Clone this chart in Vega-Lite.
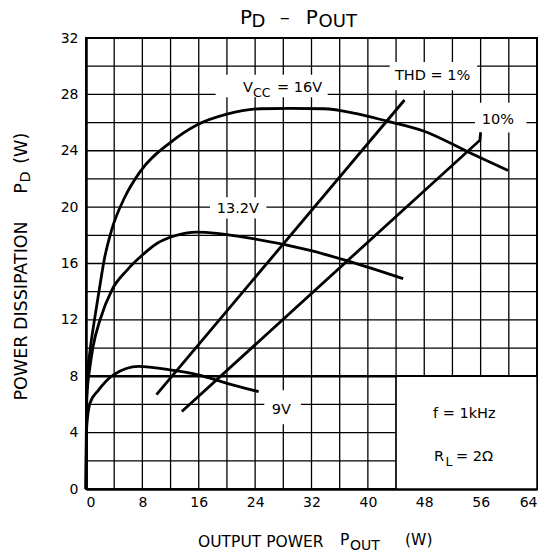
{
  "$schema": "https://vega.github.io/schema/vega-lite/v6.json",
  "width": 451,
  "height": 451,
  "autosize": {"type": "none"},
  "padding": {"left": 86, "top": 38, "right": 12, "bottom": 68},
  "background": "white",
  "config": {
    "font": "DejaVu Sans",
    "view": {"stroke": "black", "strokeWidth": 2},
    "axis": {
      "grid": false,
      "domainColor": "black", "domainWidth": 2.5,
      "ticks": false, "labelColor": "black", "labelFontSize": 14,
      "labelFont": "DejaVu Sans", "labelPadding": 6, "title": null
    }
  },
  "datasets": {
    "gridx": [{"x": 4}, {"x": 8}, {"x": 12}, {"x": 16}, {"x": 20}, {"x": 24}, {"x": 28}, {"x": 32}, {"x": 36}, {"x": 40}, {"x": 44}, {"x": 48}, {"x": 52}, {"x": 56}, {"x": 60}],
    "gridy": [{"y": 2}, {"y": 4}, {"y": 6}, {"y": 8}, {"y": 10}, {"y": 12}, {"y": 14}, {"y": 16}, {"y": 18}, {"y": 20}, {"y": 22}, {"y": 24}, {"y": 26}, {"y": 28}, {"y": 30}],
    "thick": [{"y": 8}],
    "curves": [
      {"s": "16V", "x": 0, "y": 0}, {"s": "16V", "x": 0.05, "y": 4}, {"s": "16V", "x": 0.12, "y": 7.5},
      {"s": "16V", "x": 0.57, "y": 9.8}, {"s": "16V", "x": 1.2, "y": 12.0}, {"s": "16V", "x": 1.9, "y": 14.2},
      {"s": "16V", "x": 2.6, "y": 16.3}, {"s": "16V", "x": 3.65, "y": 18.4}, {"s": "16V", "x": 5.5, "y": 20.7},
      {"s": "16V", "x": 7.66, "y": 22.5}, {"s": "16V", "x": 12, "y": 24.6}, {"s": "16V", "x": 15.8, "y": 25.85},
      {"s": "16V", "x": 20, "y": 26.6}, {"s": "16V", "x": 24.7, "y": 26.98}, {"s": "16V", "x": 29, "y": 27.0},
      {"s": "16V", "x": 33.7, "y": 26.98}, {"s": "16V", "x": 38.4, "y": 26.63}, {"s": "16V", "x": 42.7, "y": 26.1},
      {"s": "16V", "x": 47.9, "y": 25.4}, {"s": "16V", "x": 54.3, "y": 23.9}, {"s": "16V", "x": 59.9, "y": 22.6},
      {"s": "13.2V", "x": 0, "y": 0}, {"s": "13.2V", "x": 0.05, "y": 4}, {"s": "13.2V", "x": 0.12, "y": 6.5},
      {"s": "13.2V", "x": 0.57, "y": 8.7}, {"s": "13.2V", "x": 1.0, "y": 10.1}, {"s": "13.2V", "x": 1.99, "y": 12.0},
      {"s": "13.2V", "x": 3.65, "y": 14.1}, {"s": "13.2V", "x": 5.77, "y": 15.5}, {"s": "13.2V", "x": 8, "y": 16.6},
      {"s": "13.2V", "x": 10.0, "y": 17.4}, {"s": "13.2V", "x": 12.5, "y": 17.95}, {"s": "13.2V", "x": 15.7, "y": 18.23},
      {"s": "13.2V", "x": 23.7, "y": 17.76}, {"s": "13.2V", "x": 31.8, "y": 16.93}, {"s": "13.2V", "x": 37.0, "y": 16.2},
      {"s": "13.2V", "x": 45.0, "y": 14.92},
      {"s": "9V", "x": 0, "y": 0}, {"s": "9V", "x": 0.05, "y": 2.5}, {"s": "9V", "x": 0.1, "y": 4.4},
      {"s": "9V", "x": 0.57, "y": 6.1}, {"s": "9V", "x": 1.75, "y": 7.0}, {"s": "9V", "x": 3.9, "y": 8.1},
      {"s": "9V", "x": 7.5, "y": 8.7}, {"s": "9V", "x": 11.9, "y": 8.45}, {"s": "9V", "x": 15.9, "y": 8.1},
      {"s": "9V", "x": 20, "y": 7.5}, {"s": "9V", "x": 24.5, "y": 6.9}
    ],
    "thd": [
      {"s": "THD1", "x": 10.0, "y": 6.7}, {"s": "THD1", "x": 45.2, "y": 27.6},
      {"s": "THD10", "x": 13.6, "y": 5.5}, {"s": "THD10", "x": 55.9, "y": 24.75}, {"s": "THD10", "x": 56.0, "y": 25.3}
    ],
    "boxes": [
      {"x": 18.4, "x2": 34.3, "y": 27.8, "y2": 29.4},
      {"x": 17.6, "x2": 25.6, "y": 19.2, "y2": 20.7},
      {"x": 25.3, "x2": 30.5, "y": 4.6, "y2": 7.0},
      {"x": 43.1, "x2": 55.5, "y": 28.3, "y2": 30.3},
      {"x": 55.2, "x2": 62.5, "y": 25.3, "y2": 27.4}
    ],
    "infobox": [{"x": 44, "x2": 64, "y": 0, "y2": 8}],
    "labels": [
      {"x": 22.28, "y": 28.16, "t": "V"},
      {"x": 27.1, "y": 28.16, "t": "= 16V"},
      {"x": 18.55, "y": 19.55, "t": "13.2V"},
      {"x": 26.35, "y": 5.34, "t": "9V"},
      {"x": 43.85, "y": 29.0, "t": "THD = 1%"},
      {"x": 56.15, "y": 25.92, "t": "10%"},
      {"x": 49.24, "y": 5.05, "t": "f = 1kHz"},
      {"x": 49.38, "y": 2.02, "t": "R"},
      {"x": 52.5, "y": 2.02, "t": "= 2Ω"}
    ],
    "subs": [
      {"x": 23.7, "y": 28.16, "t": "CC"},
      {"x": 51.0, "y": 2.02, "t": "L"}
    ],
    "title": [
      {"x": 21.85, "y": 33.02, "t": "P"},
      {"x": 27.5, "y": 33.02, "t": "–"},
      {"x": 31.2, "y": 33.02, "t": "P"}
    ],
    "titlesub": [
      {"x": 23.5, "y": 33.02, "t": "D"},
      {"x": 33.0, "y": 33.02, "t": "OUT"}
    ],
    "xtitle": [
      {"x": 15.9, "y": -4.13, "t": "OUTPUT POWER"},
      {"x": 36.04, "y": -3.96, "t": "P"},
      {"x": 45.27, "y": -4.0, "t": "(W)"}
    ],
    "xtitlesub": [
      {"x": 37.46, "y": -3.96, "t": "OUT"}
    ],
    "ytitle": [
      {"x": -8.41, "y": 6.28, "t": "POWER DISSIPATION"},
      {"x": -8.41, "y": 20.95, "t": "P"},
      {"x": -8.41, "y": 23.08, "t": "(W)"}
    ],
    "ytitlesub": [
      {"x": -7.9, "y": 21.75, "t": "D"}
    ]
  },
  "resolve": {"scale": {"x": "shared", "y": "shared"}},
  "layer": [
    {
      "data": {"name": "gridx"},
      "mark": {"type": "rule", "stroke": "black", "strokeWidth": 1.3},
      "encoding": {
        "x": {"field": "x", "type": "quantitative",
          "scale": {"domain": [0, 64], "nice": false, "zero": false},
          "axis": {"values": [0, 8, 16, 24, 32, 40, 48, 56, 64]}}
      }
    },
    {
      "data": {"name": "gridy"},
      "mark": {"type": "rule", "stroke": "black", "strokeWidth": 1.3},
      "encoding": {
        "y": {"field": "y", "type": "quantitative",
          "scale": {"domain": [0, 32], "nice": false, "zero": false},
          "axis": {"values": [0, 4, 8, 12, 16, 20, 24, 28, 32], "labelPadding": 8}}
      }
    },
    {
      "data": {"name": "thick"},
      "mark": {"type": "rule", "stroke": "black", "strokeWidth": 2.5},
      "encoding": {"y": {"field": "y", "type": "quantitative"}}
    },
    {
      "data": {"name": "boxes"},
      "mark": {"type": "rect", "fill": "white"},
      "encoding": {
        "x": {"field": "x", "type": "quantitative"},
        "x2": {"field": "x2"},
        "y": {"field": "y", "type": "quantitative"},
        "y2": {"field": "y2"}
      }
    },
    {
      "data": {"name": "infobox"},
      "mark": {"type": "rect", "fill": "white", "stroke": "black", "strokeWidth": 1.5},
      "encoding": {
        "x": {"field": "x", "type": "quantitative"},
        "x2": {"field": "x2"},
        "y": {"field": "y", "type": "quantitative"},
        "y2": {"field": "y2"}
      }
    },
    {
      "data": {"name": "curves"},
      "mark": {"type": "line", "stroke": "black", "strokeWidth": 2.8, "interpolate": "monotone"},
      "encoding": {
        "x": {"field": "x", "type": "quantitative"},
        "y": {"field": "y", "type": "quantitative"},
        "detail": {"field": "s", "type": "nominal"}
      }
    },
    {
      "data": {"name": "thd"},
      "mark": {"type": "line", "stroke": "black", "strokeWidth": 2.8, "interpolate": "linear"},
      "encoding": {
        "x": {"field": "x", "type": "quantitative"},
        "y": {"field": "y", "type": "quantitative"},
        "detail": {"field": "s", "type": "nominal"}
      }
    },
    {
      "data": {"name": "labels"},
      "mark": {"type": "text", "align": "left", "baseline": "alphabetic", "fontSize": 14.5, "fill": "black"},
      "encoding": {
        "x": {"field": "x", "type": "quantitative"},
        "y": {"field": "y", "type": "quantitative"},
        "text": {"field": "t"}
      }
    },
    {
      "data": {"name": "subs"},
      "mark": {"type": "text", "align": "left", "baseline": "alphabetic", "fontSize": 12.5, "dy": 5, "fill": "black"},
      "encoding": {
        "x": {"field": "x", "type": "quantitative"},
        "y": {"field": "y", "type": "quantitative"},
        "text": {"field": "t"}
      }
    },
    {
      "data": {"name": "title"},
      "mark": {"type": "text", "align": "left", "baseline": "alphabetic", "fontSize": 20, "fill": "black"},
      "encoding": {
        "x": {"field": "x", "type": "quantitative"},
        "y": {"field": "y", "type": "quantitative"},
        "text": {"field": "t"}
      }
    },
    {
      "data": {"name": "titlesub"},
      "mark": {"type": "text", "align": "left", "baseline": "alphabetic", "fontSize": 18, "dy": 3.5, "fill": "black"},
      "encoding": {
        "x": {"field": "x", "type": "quantitative"},
        "y": {"field": "y", "type": "quantitative"},
        "text": {"field": "t"}
      }
    },
    {
      "data": {"name": "xtitle"},
      "mark": {"type": "text", "align": "left", "baseline": "alphabetic", "fontSize": 15.5, "fill": "black"},
      "encoding": {
        "x": {"field": "x", "type": "quantitative"},
        "y": {"field": "y", "type": "quantitative"},
        "text": {"field": "t"}
      }
    },
    {
      "data": {"name": "xtitlesub"},
      "mark": {"type": "text", "align": "left", "baseline": "alphabetic", "fontSize": 14, "dy": 5, "fill": "black"},
      "encoding": {
        "x": {"field": "x", "type": "quantitative"},
        "y": {"field": "y", "type": "quantitative"},
        "text": {"field": "t"}
      }
    },
    {
      "data": {"name": "ytitle"},
      "mark": {"type": "text", "align": "left", "baseline": "alphabetic", "angle": 270, "fontSize": 17.5, "fill": "black"},
      "encoding": {
        "x": {"field": "x", "type": "quantitative"},
        "y": {"field": "y", "type": "quantitative"},
        "text": {"field": "t"}
      }
    },
    {
      "data": {"name": "ytitlesub"},
      "mark": {"type": "text", "align": "left", "baseline": "alphabetic", "angle": 270, "fontSize": 14.5, "fill": "black"},
      "encoding": {
        "x": {"field": "x", "type": "quantitative"},
        "y": {"field": "y", "type": "quantitative"},
        "text": {"field": "t"}
      }
    }
  ]
}
